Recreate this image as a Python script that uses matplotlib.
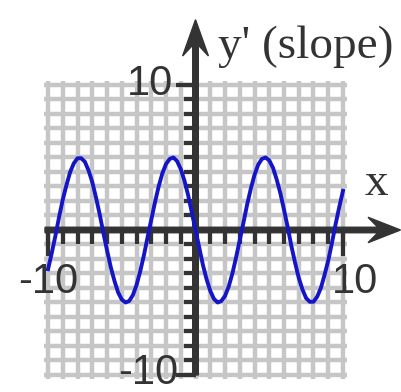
import matplotlib
matplotlib.use("Agg")
import matplotlib.pyplot as plt

# slope curve, every quarter unit from -10 to 10
x_vals = [i / 4 for i in range(-40, 41)]
slope_vals = [-2.7, -1.6, -0.4, 0.9, 2.1, 3.1, 4.0, 4.6, 4.95, 4.95,
              4.7, 4.1, 3.3, 2.25, 1.1, -0.2, -1.4, -2.55, -3.5, -4.3,
              -4.8, -5.0, -4.9, -4.5, -3.8, -2.85, -1.75, -0.5, 0.7, 1.9,
              3.0, 3.9, 4.55, 4.9, 5.0, 4.75, 4.2, 3.4, 2.4, 1.2,
              0.0,
              -1.2, -2.4, -3.4, -4.2, -4.75, -5.0, -4.9, -4.55, -3.9, -3.0,
              -1.9, -0.7, 0.5, 1.75, 2.85, 3.8, 4.5, 4.9, 5.0, 4.8,
              4.3, 3.5, 2.55, 1.4, 0.2, -1.1, -2.25, -3.3, -4.1, -4.7,
              -4.95, -4.95, -4.6, -4.0, -3.1, -2.1, -0.9, 0.4, 1.6, 2.7]
ticks = list(range(-10, 11))
tick_labels = ['-10', '10']
axis_names = ["y' (slope)", 'x']

dark = '#333333'

fig = plt.figure(figsize=(4.02, 3.92), dpi=100)
ax = fig.add_axes([0.1085, 0.0323, 0.7557, 0.762])
ax.set_xlim(-10.3, 10.3)
ax.set_ylim(-10.3, 10.3)
for s in ax.spines.values():
    s.set_visible(False)
ax.set_xticks(ticks)
ax.set_yticks(ticks)
ax.tick_params(length=0, labelbottom=False, labelleft=False)
ax.grid(True, color='#c6c6c6', lw=3.2)
ax.set_axisbelow(True)

# axes with arrows
ax.arrow(-10.2, 0, 24.1, 0, width=0.38, head_width=1.75, head_length=2.2,
         overhang=0.3, length_includes_head=True, color=dark, clip_on=False, zorder=3)
ax.arrow(0, -10, 0, 24.5, width=0.38, head_width=1.75, head_length=2.5,
         overhang=0.3, length_includes_head=True, color=dark, clip_on=False, zorder=3)

# tick marks
ax.vlines(ticks, -1.0, 0, color=dark, lw=3, zorder=3, clip_on=False)
ax.vlines([ticks[0], ticks[-1]], -1.8, 0, color=dark, lw=3, zorder=3, clip_on=False)
ax.hlines(ticks, -0.8, 0, color=dark, lw=3, zorder=3, clip_on=False)
ax.hlines([ticks[0], ticks[-1]], -1.3, 0, color=dark, lw=3, zorder=3, clip_on=False)

num_font = dict(family='Liberation Sans', size=30, color=dark)
ax.text(-1.5, 9.3, tick_labels[1], ha='right', va='baseline', **num_font)
ax.text(-1.15, -10.6, tick_labels[0], ha='right', va='baseline', **num_font)
ax.text(-12.0, -4.35, tick_labels[0], ha='left', va='baseline', **num_font)
ax.text(9.25, -4.35, tick_labels[1], ha='left', va='baseline', **num_font)

name_font = dict(family='Liberation Serif', size=34, color=dark)
ax.text(1.5, 11.85, axis_names[0], ha='left', va='baseline', **name_font)
ax.text(11.5, 2.4, axis_names[1], ha='left', va='baseline', **name_font)

ax.plot(x_vals, slope_vals, color='#1515c8', lw=2.8, zorder=5, clip_on=False)

fig.savefig('out.png', dpi=100)
